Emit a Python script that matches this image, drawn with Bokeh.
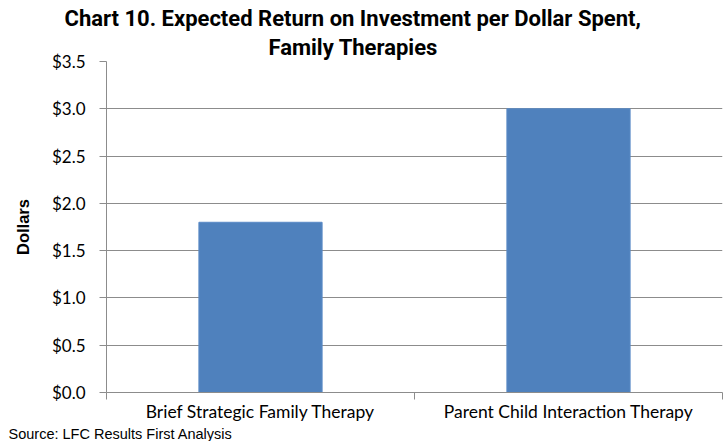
from bokeh.plotting import figure
from bokeh.models import ColumnDataSource, FixedTicker, NumeralTickFormatter, Range1d, Title
from bokeh.embed import file_html
from bokeh.resources import INLINE

categories = ["Brief Strategic Family Therapy", "Parent Child Interaction Therapy"]
returns = [1.8, 3.0]
y_ticks = [0.0, 0.5, 1.0, 1.5, 2.0, 2.5, 3.0, 3.5]
title_line1 = "Chart 10. Expected Return on Investment  per Dollar Spent,"
title_line2 = "Family Therapies"
y_label = "Dollars"
source_note = "Source: LFC Results First Analysis"

x_pos = [i + 0.5 for i in range(len(categories))]
bounds = list(range(len(categories) + 1))
src = ColumnDataSource(dict(x=x_pos, top=returns, cat=categories))

GRID = "#8C8C8C"
BAR = "#4F81BD"
TITLE_FONT = "Roboto"
BODY = "Lato"

p = figure(width=725, height=441, output_backend="svg", toolbar_location=None,
           x_range=Range1d(0, len(categories)), y_range=Range1d(0, y_ticks[-1]),
           min_border_left=106, min_border_right=3, min_border_top=61, min_border_bottom=49)
p.outline_line_color = None
p.background_fill_color = "white"
p.border_fill_color = "white"

p.vbar(x="x", top="top", width=0.4, source=src, fill_color=BAR, line_color="#5A8AC6", line_width=1)

# x axis
xa = p.xaxis[0]
xa.ticker = FixedTicker(ticks=x_pos, minor_ticks=bounds)
xa.major_label_overrides = {x: c for x, c in zip(x_pos, categories)}
xa.major_tick_out = 0
xa.major_tick_in = 0
xa.minor_tick_out = 7
xa.minor_tick_in = 0
xa.minor_tick_line_color = GRID
xa.axis_line_color = GRID
xa.major_label_text_font = BODY
xa.major_label_text_font_size = "17.5px"
xa.major_label_text_color = "#000000"
xa.major_label_standoff = 1

# y axis
ya = p.yaxis[0]
ya.ticker = FixedTicker(ticks=y_ticks)
ya.formatter = NumeralTickFormatter(format="$0.0")
ya.major_tick_out = 7
ya.major_tick_in = 0
ya.minor_tick_line_color = None
ya.major_tick_line_color = GRID
ya.axis_line_color = GRID
ya.major_label_text_font = BODY
ya.major_label_text_font_size = "17px"
ya.major_label_text_color = "#000000"
ya.major_label_standoff = 14
ya.axis_label = y_label
ya.axis_label_text_font = "Liberation Sans"
ya.axis_label_text_font_style = "bold"
ya.axis_label_text_font_size = "16.5px"
ya.axis_label_text_color = "#000000"
ya.axis_label_standoff = 17

p.xgrid.visible = False
p.ygrid.grid_line_color = GRID
p.ygrid.grid_line_width = 1

# titles: the one added with add_layout sits nearest the frame
p.title.text = title_line1
p.title.align = "left"
p.title.offset = -42
p.title.text_font = TITLE_FONT
p.title.text_font_style = "bold"
p.title.text_font_size = "22px"
p.title.text_color = "#000000"
p.title.standoff = 0
p.add_layout(Title(text=title_line2, align="left", offset=162, text_font=TITLE_FONT,
                   text_font_style="bold", text_font_size="22px", text_color="#000000",
                   standoff=4), "above")

p.add_layout(Title(text=source_note, align="left", text_font="Liberation Sans",
                   text_font_size="14.5px", text_font_style="normal", text_color="#000000",
                   offset=-98, standoff=-2), "below")

open("out.html", "w").write(file_html(p, INLINE))
